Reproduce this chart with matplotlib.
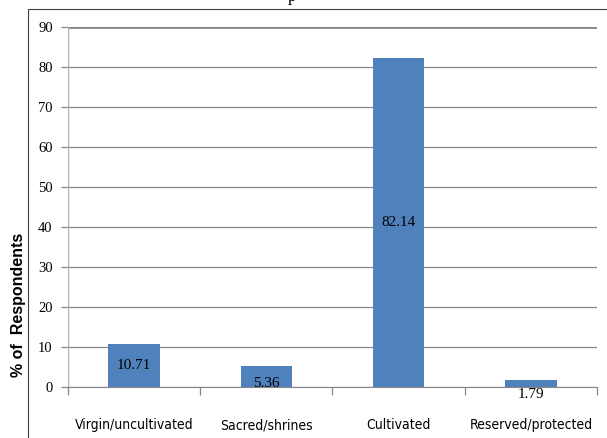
import matplotlib.pyplot as plt
from matplotlib.patches import Rectangle

categories = ["Virgin/uncultivated", "Sacred/shrines", "Cultivated", "Reserved/protected"]
values = [10.71, 5.36, 82.14, 1.79]
yticks = [0, 10, 20, 30, 40, 50, 60, 70, 80, 90]

fig = plt.figure(figsize=(6.07, 4.38), dpi=100)
ax = fig.add_axes([0.112, 0.1164, 0.8715, 0.822])

x = range(len(categories))
ax.bar(x, values, width=0.39, color="#4F81BD", zorder=2)
ax.set_xlim(-0.5, len(categories) - 0.5)
ax.set_ylim(0, 90)

# gridlines like the excel chart
for t in yticks:
    ax.axhline(t, color="#868686", lw=2.0 if t == 90 else 0.9, zorder=1)

# data labels, pushed down for short bars
for i, v in enumerate(values):
    y = v / 2 if v > 8 else max(v - 4.6, -1.8)
    ax.text(i, y, f"{v:.2f}", ha="center", va="center", fontsize=11,
            family="Liberation Serif", zorder=3)

for s in ["top", "right", "left"]:
    ax.spines[s].set_visible(False)
ax.spines["bottom"].set_color("#868686")
ax.axvline(-0.5, ymin=-0.008, color="#b0b0b0", lw=1.0)

ax.set_yticks(yticks)
ax.set_yticklabels([str(t) for t in yticks], family="Liberation Serif", fontsize=10.5)
ax.tick_params(axis="y", length=5, color="#868686", pad=6, width=0.9)

ax.set_xticks([-0.5, 0.5, 1.5, 2.5, 3.5])
ax.set_xticklabels([])
ax.tick_params(axis="x", length=6, color="#868686", width=0.9)
for i, c in enumerate(categories):
    ax.text(i, -9.6, c, ha="center", va="center", fontsize=10,
            family=["DejaVu Sans"], fontstretch="condensed")

fig.text(0.03, 0.305, "% of  Respondents", rotation=90, ha="center", va="center",
         fontsize=11.5, fontweight="bold", family="Liberation Sans")

# outer frame of the figure box
fig.patches.append(Rectangle((0.046, -0.1), 1.2, 1.079, transform=fig.transFigure,
                             fill=False, edgecolor="#404040", lw=0.8))
fig.text(0.474, 0.998, "p", fontsize=12, family="Liberation Serif", va="baseline")

fig.savefig("out.png", dpi=100)
